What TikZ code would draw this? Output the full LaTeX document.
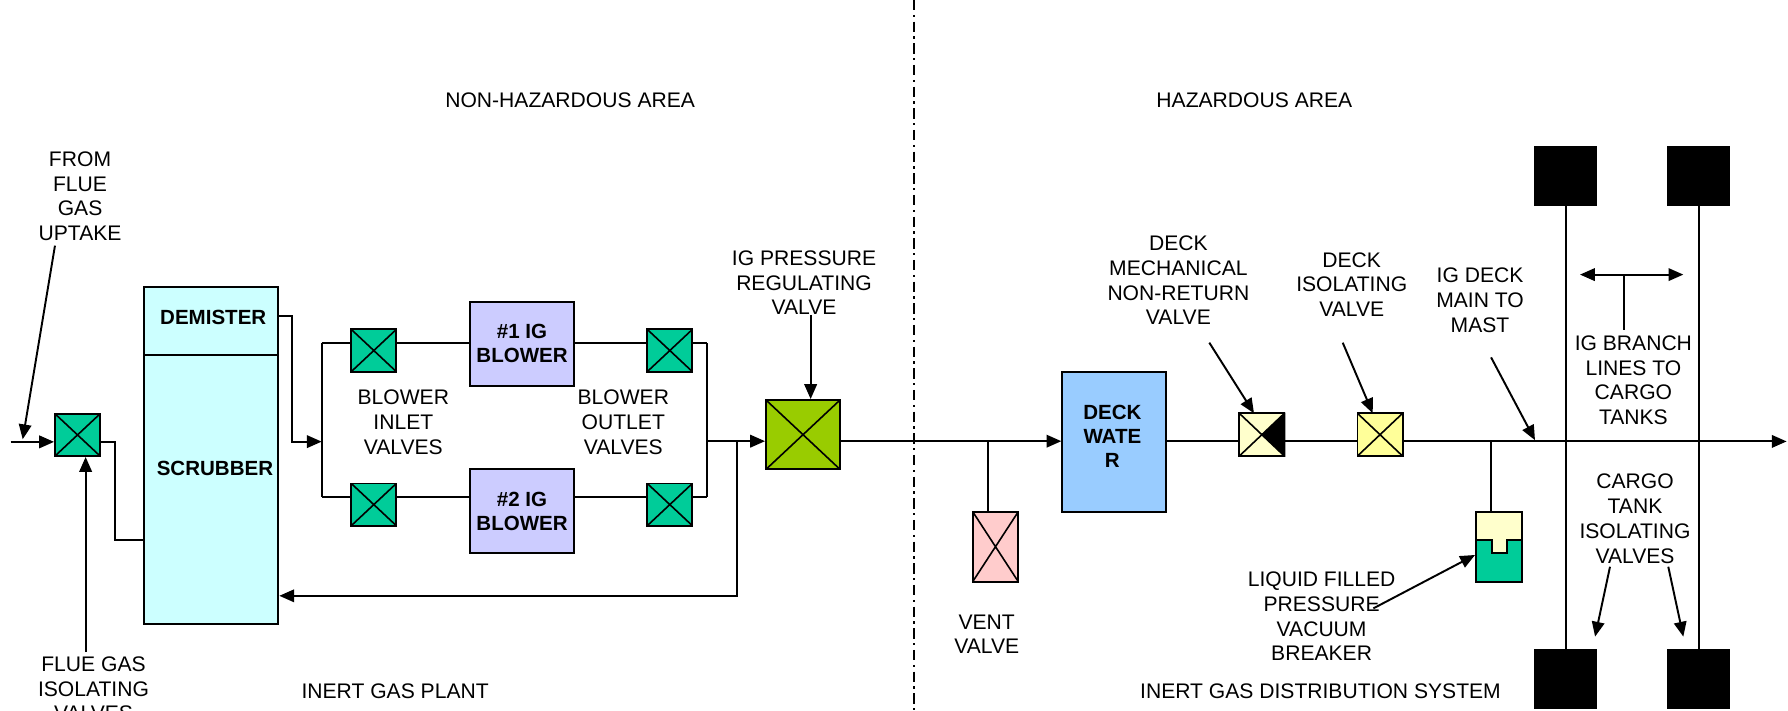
\documentclass[tikz,border=0pt]{standalone}
\usepackage{fontspec}
\setmainfont{Liberation Sans}
\usetikzlibrary{arrows.meta,calc}
\definecolor{gv}{HTML}{00CC99}
\definecolor{pvg}{HTML}{99CC00}
\definecolor{scrc}{HTML}{CCFFFF}
\definecolor{blw}{HTML}{CCCCFF}
\definecolor{dwc}{HTML}{99CCFF}
\definecolor{ventc}{HTML}{FFCCCC}
\definecolor{nrvc}{HTML}{FFFFCC}
\definecolor{isoc}{HTML}{FFFF99}
\begin{document}
\begin{tikzpicture}[x=1pt,y=-1pt,
  ln/.style={line width=1.7pt},
  arr/.style={ln,-{Triangle[length=13pt,width=11pt]}},
  lbl/.style={align=center,inner sep=0pt,font=\fontsize{18.5}{21.7}\selectfont},
  btxt/.style={align=center,inner sep=0pt,font=\bfseries\fontsize{18}{21.3}\selectfont},
  box/.style={draw,line width=1.7pt,rectangle,inner sep=0pt},
  valve/.style={box,minimum width=39.5pt,minimum height=37pt,
     path picture={\draw[line width=1.4pt] (path picture bounding box.north west)--(path picture bounding box.south east) (path picture bounding box.south west)--(path picture bounding box.north east);}},
  tank/.style={box,fill=black,minimum width=53.6pt,minimum height=50.9pt},
]
\useasboundingbox (0,0) rectangle (1568,623);

% divider
\coordinate (dtop) at (801.3,0);
\coordinate (dbot) at (801.3,623);
\draw[line width=1.5pt,dash pattern=on 9pt off 4pt on 2pt off 4pt] (dtop) -- (dbot);

% area labels
\node[lbl] (nha) at (500,88) {NON-HAZARDOUS AREA};
\node[lbl] (ha) at (1100,88) {HAZARDOUS AREA};
\node[lbl] (igp) at (346.5,606) {INERT GAS PLANT};
\node[lbl] (igd) at (1158,606) {INERT GAS DISTRIBUTION SYSTEM};

% ---------- inert gas plant ----------
\node[valve,fill=gv] (v1) at (68,381.4) {};
\node[box,fill=scrc,minimum width=117.5pt,minimum height=295pt] (scr) at (185.35,399.5) {};
\coordinate (dv) at (0,311.2);
\draw[ln] (scr.west |- dv) -- (scr.east |- dv);
\node[btxt] (demt) at (187,278.7) {DEMISTER};
\node[btxt] (scrt) at (188.5,411.2) {SCRUBBER};

\node[lbl] (lfrom) at (70.2,172.1) {FROM\\FLUE\\GAS\\UPTAKE};
\node[lbl] (lfgiv) at (82,604.1) {FLUE GAS\\ISOLATING\\VALVES};

\coordinate (inS) at (9.4,387.5);
\draw[arr] (inS) -- (inS -| v1.west);
\coordinate (a1s) at (48.2,215.4);
\coordinate (a1e) at (19.9,385.2);
\draw[arr] (a1s) -- (a1e);
\coordinate (a2s) at (75.1,571.9);
\draw[arr] (a2s) -- (a2s |- v1.south);

\coordinate (j1) at (100.9,387.5);
\coordinate (j2) at (100.9,473.6);
\draw[ln] (v1.east |- j1) -- (j1) -- (j2) -- (j2 -| scr.west);

\coordinate (j3) at (256.4,277.1);
\coordinate (j4) at (256.4,387.3);
\coordinate (mi) at (282.1,387.3);
\draw[arr] (j3 -| scr.east) -- (j3) -- (j4) -- (mi);

% blowers
\node[valve,fill=gv] (vi1) at (327.8,307.4) {};
\node[valve,fill=gv] (vi2) at (327.8,442.5) {};
\node[valve,fill=gv] (vo1) at (587.4,307.4) {};
\node[valve,fill=gv] (vo2) at (587.4,442.5) {};
\node[box,fill=blw,minimum width=91.2pt,minimum height=73.6pt,btxt] (b1) at (457.8,301.4) {\#1 IG\\BLOWER};
\node[box,fill=blw,minimum width=91.2pt,minimum height=73.6pt,btxt] (b2) at (457.8,448.4) {\#2 IG\\BLOWER};

\coordinate (mit) at (282.1,301.1);
\coordinate (mib) at (282.1,436.1);
\coordinate (mot) at (620.3,301.1);
\coordinate (mob) at (620.3,436.1);
\draw[ln] (mit) -- (mib);
\draw[ln] (mot) -- (mob);
\draw[ln] (mit) -- (mit -| vi1.west) (vi1.east |- mit) -- (mit -| b1.west)
          (b1.east |- mit) -- (mit -| vo1.west) (vo1.east |- mit) -- (mot);
\draw[ln] (mib) -- (mib -| vi2.west) (vi2.east |- mib) -- (mib -| b2.west)
          (b2.east |- mib) -- (mib -| vo2.west) (vo2.east |- mib) -- (mob);

\node[lbl] (lbiv) at (353.7,370.1) {BLOWER\\INLET\\VALVES};
\node[lbl] (lbov) at (546.6,370.1) {BLOWER\\OUTLET\\VALVES};

% pressure regulating valve
\node[valve,fill=pvg,minimum width=64.9pt,minimum height=60.8pt] (pv) at (704.2,381.2) {};
\coordinate (mo) at (620.3,386.9);
\draw[arr] (mo) -- (mo -| pv.west);
\coordinate (r1) at (646,386.9);
\coordinate (r2) at (646,522.5);
\draw[arr] (r1) -- (r2) -- (r2 -| scr.east);
\node[lbl] (lpv) at (705.1,248) {IG PRESSURE\\REGULATING\\VALVE};
\coordinate (pa) at (710.9,276.2);
\draw[arr] (pa) -- (pa |- pv.north);

% ---------- distribution ----------
\node[box,fill=dwc,minimum width=90.6pt,minimum height=122.8pt] (dw) at (976.9,387.3) {};
\node[btxt] (dwt) at (975.5,382.7) {DECK\\WATE\\R};
\coordinate (ml) at (736.6,386.9);
\draw[arr] (pv.east |- ml) -- (ml -| dw.west);

\node[valve,fill=ventc,minimum width=40pt,minimum height=61.4pt] (vent) at (873,479.4) {};
\coordinate (vj) at (866.2,386.9);
\draw[ln] (vj) -- (vj |- vent.north);
\node[lbl] (lvent) at (865.3,556.2) {VENT\\VALVE};

\node[valve,fill=nrvc,minimum height=37.4pt] (nrv) at (1106.6,381.2) {};
\fill (nrv.center) -- (nrv.north east) -- (nrv.south east) -- cycle;
\node[valve,fill=isoc,minimum height=37.4pt] (iso) at (1210.2,381.2) {};
\coordinate (ml2) at (1100,387.1);
\coordinate (mend) at (1566.8,387.1);
\draw[ln] (dw.east |- ml2) -- (ml2 -| nrv.west) (nrv.east |- ml2) -- (ml2 -| iso.west);
\draw[arr] (iso.east |- ml2) -- (mend);

\node[lbl] (lnrv) at (1033.4,245.9) {DECK\\MECHANICAL\\NON-RETURN\\VALVE};
\node[lbl] (liso) at (1185.4,249.4) {DECK\\ISOLATING\\VALVE};
\node[lbl] (lmast) at (1297.9,263.3) {IG DECK\\MAIN TO\\MAST};
\coordinate (n1s) at (1060.5,300.5);
\coordinate (n1e) at (1099.7,362.4);
\draw[arr] (n1s) -- (n1e);
\coordinate (i1s) at (1177.5,300.5);
\coordinate (i1e) at (1203.8,362.4);
\draw[arr] (i1s) -- (i1e);
\coordinate (m1s) at (1307.6,313.4);
\coordinate (m1e) at (1346.1,386);
\draw[arr] (m1s) -- (m1e);

% PV breaker
\node[box,fill=nrvc,minimum width=40.1pt,minimum height=61.4pt] (brk) at (1314.45,479.4) {};
\filldraw[fill=gv,line width=1.7pt] (1294.4,473.6) -- (1308.1,473.6) -- (1308.1,484.7) -- (1321.3,484.7) -- (1321.3,473.6) -- (1334.5,473.6) -- (1334.5,510.1) -- (1294.4,510.1) -- cycle;
\coordinate (bj) at (1307.5,387.1);
\draw[ln] (bj) -- (bj |- brk.north);
\node[lbl] (lbrk) at (1159,540.5) {LIQUID FILLED\\PRESSURE\\VACUUM\\BREAKER};
\coordinate (b1s) at (1204.4,533.5);
\coordinate (b1e) at (1293.5,486.7);
\draw[arr] (b1s) -- (b1e);

% cargo tanks
\node[tank] (t1) at (1372.9,154.2) {};
\node[tank] (t2) at (1489.7,154.2) {};
\node[tank] (t3) at (1372.9,595.6) {};
\node[tank] (t4) at (1489.7,595.6) {};
\draw[ln] (t1.south) -- (t3.north);
\draw[ln] (t2.south) -- (t4.north);

\coordinate (da1) at (1385.6,240.8);
\coordinate (da2) at (1476.2,240.8);
\draw[ln,{Triangle[length=13pt,width=11pt]}-{Triangle[length=13pt,width=11pt]}] (da1) -- (da2);
\coordinate (st1) at (1424.5,240.8);
\coordinate (st2) at (1424.5,289.8);
\draw[ln] (st1) -- (st2);
\node[lbl] (lbr) at (1432.4,333.4) {IG BRANCH\\LINES TO\\CARGO\\TANKS};
\node[lbl] (lctv) at (1433.8,455) {CARGO\\TANK\\ISOLATING\\VALVES};
\coordinate (c1s) at (1411.9,497);
\coordinate (c1e) at (1398.8,558.3);
\coordinate (c2s) at (1463,497);
\coordinate (c2e) at (1476.2,558.3);
\draw[arr] (c1s) -- (c1e);
\draw[arr] (c2s) -- (c2e);
\end{tikzpicture}
\end{document}
